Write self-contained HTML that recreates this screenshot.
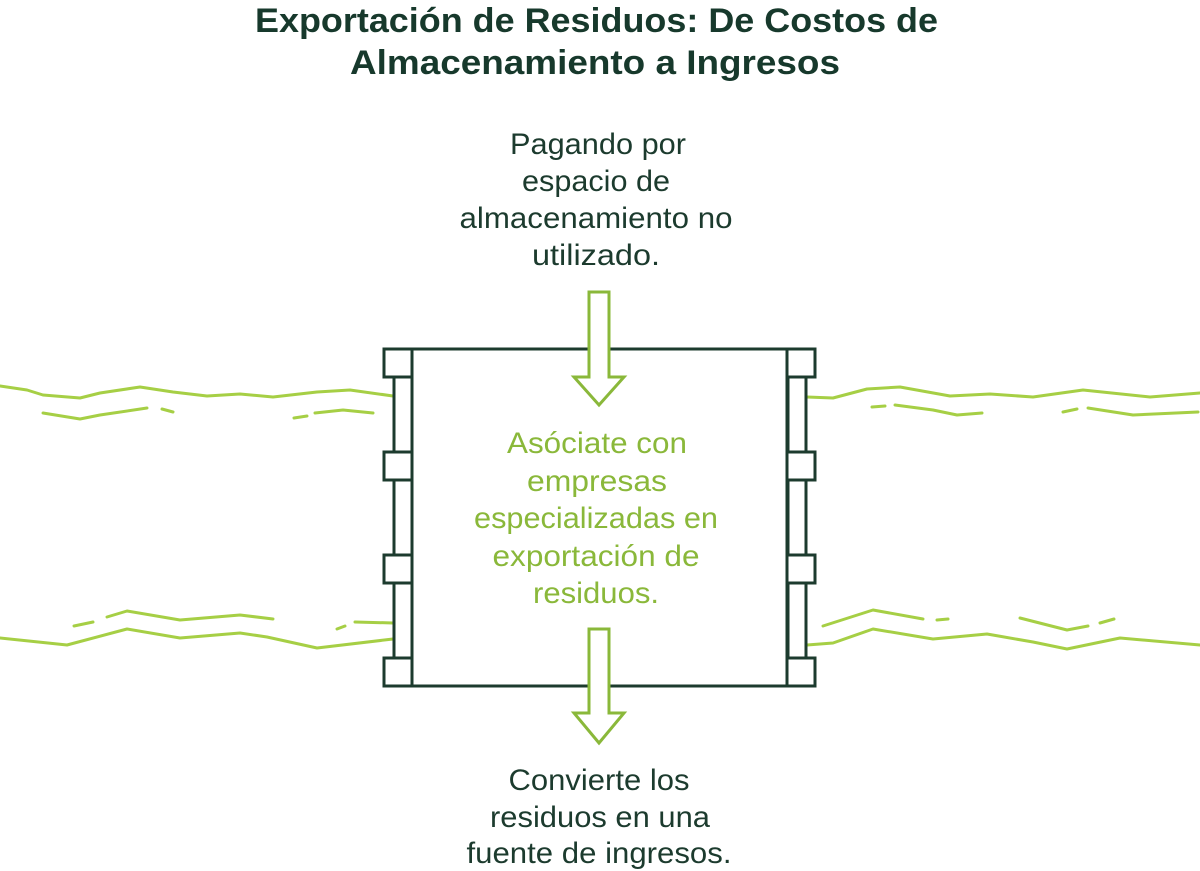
<!DOCTYPE html>
<html><head><meta charset="utf-8"><style>
html,body{margin:0;padding:0;background:#fff;}
svg{display:block;}
text{font-family:"Liberation Sans",sans-serif;}
</style></head><body>
<svg width="1200" height="871" viewBox="0 0 1200 871" xmlns="http://www.w3.org/2000/svg">
<g fill="#17392c" font-weight="bold" font-size="34">
<text x="255" y="32" textLength="683" lengthAdjust="spacingAndGlyphs">Exportación de Residuos: De Costos de</text>
<text x="350" y="74" textLength="490" lengthAdjust="spacingAndGlyphs">Almacenamiento a Ingresos</text>
</g>
<g fill="#1c3b2e" font-size="30" text-anchor="middle">
<text x="598" y="154" textLength="176" lengthAdjust="spacingAndGlyphs">Pagando por</text>
<text x="596" y="191" textLength="148" lengthAdjust="spacingAndGlyphs">espacio de</text>
<text x="596" y="228" textLength="273" lengthAdjust="spacingAndGlyphs">almacenamiento no</text>
<text x="596" y="265" textLength="128" lengthAdjust="spacingAndGlyphs">utilizado.</text>
<text x="599" y="790" textLength="181" lengthAdjust="spacingAndGlyphs">Convierte los</text>
<text x="600" y="827" textLength="220" lengthAdjust="spacingAndGlyphs">residuos en una</text>
<text x="599" y="863" textLength="265" lengthAdjust="spacingAndGlyphs">fuente de ingresos.</text>
</g>
<g fill="none" stroke="#a6cf45" stroke-width="3" stroke-linecap="round" stroke-linejoin="round">
<polyline points="0,386 27,390 43,395 80,398 100,393 140,387 173,392 207,396 240,394 273,397 317,392 350,390 393,396"/>
<polyline points="43,413 80,419 100,415 147,408"/>
<polyline points="162,409 173,412"/>
<polyline points="294,418 307,416"/>
<polyline points="315,413 343,410 373,413"/>
<polyline points="74,626 93,622"/>
<polyline points="107,617 127,611 180,620 240,615 273,619"/>
<polyline points="337,629 345,626"/>
<polyline points="355,622 393,623"/>
<polyline points="0,638 67,645 127,629 180,638 240,633 267,637 317,648 393,639"/>
<polyline points="807,397 833,398 867,389 900,387 950,396 990,394 1033,397 1083,390 1150,397 1200,393"/>
<polyline points="872,407 885,406"/>
<polyline points="895,405 933,410 957,415 982,413"/>
<polyline points="1063,412 1077,409"/>
<polyline points="1088,408 1133,415 1198,412"/>
<polyline points="823,626 873,610 923,619"/>
<polyline points="937,620 948,619"/>
<polyline points="1020,618 1067,630 1088,626"/>
<polyline points="1100,623 1114,619"/>
<polyline points="807,645 833,643 873,629 933,639 987,634 1033,642 1067,649 1120,638 1200,645"/>
</g>
<g fill="#fff" stroke="#1c3b2e" stroke-width="3">
<rect x="394" y="360" width="18" height="310"/>
<rect x="788" y="360" width="18" height="310"/>
<rect x="412" y="349" width="375" height="337"/>
<rect x="384" y="349" width="28" height="28"/>
<rect x="384" y="452" width="28" height="28"/>
<rect x="384" y="555" width="28" height="28"/>
<rect x="384" y="658" width="28" height="28"/>
<rect x="787" y="349" width="28" height="28"/>
<rect x="787" y="452" width="28" height="28"/>
<rect x="787" y="555" width="28" height="28"/>
<rect x="787" y="658" width="28" height="28"/>
</g>
<g fill="#fff" stroke="#8ab83a" stroke-width="3" stroke-linejoin="miter">
<polygon points="589,292 609,292 609,377 624,377 599,405 574,377 589,377"/>
<polygon points="589,629 609,629 609,713 624,713 599,743 574,713 589,713"/>
</g>
<g fill="#8ab83a" font-size="30" text-anchor="middle">
<text x="597" y="453" textLength="180" lengthAdjust="spacingAndGlyphs">Asóciate con</text>
<text x="597" y="491" textLength="140" lengthAdjust="spacingAndGlyphs">empresas</text>
<text x="596" y="528" textLength="244" lengthAdjust="spacingAndGlyphs">especializadas en</text>
<text x="596" y="566" textLength="207" lengthAdjust="spacingAndGlyphs">exportación de</text>
<text x="596" y="603" textLength="126" lengthAdjust="spacingAndGlyphs">residuos.</text>
</g>
</svg>
</body></html>
